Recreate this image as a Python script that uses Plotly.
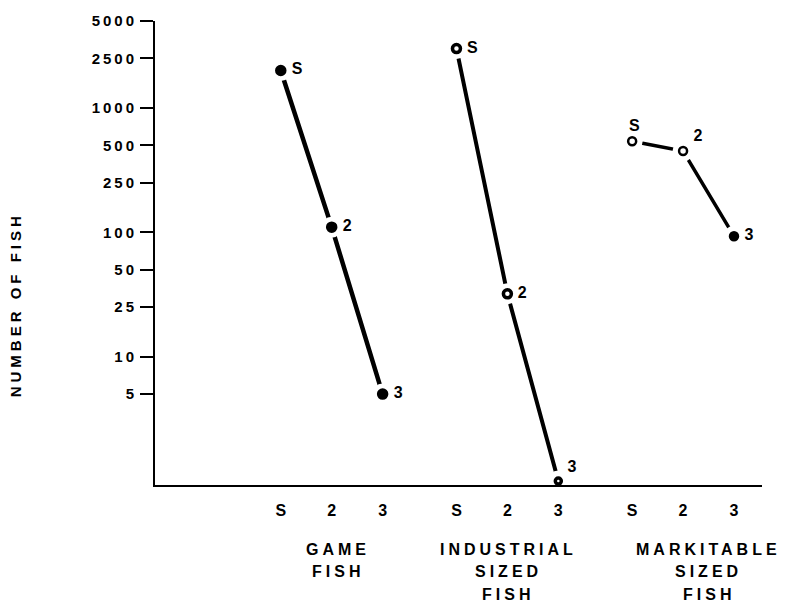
import plotly.graph_objects as go

# ---------------- data ----------------
size_classes = ["S", "2", "3"]
group_label_lines = [["GAME", "FISH"],
                     ["INDUSTRIAL", "SIZED", "FISH"],
                     ["MARKITABLE", "SIZED", "FISH"]]
game_fish = [2000, 110, 5]
industrial_sized_fish = [3000, 32, 1]
marketable_sized_fish = [540, 450, 93]
y_tick_values = [5, 10, 25, 50, 100, 250, 500, 1000, 2500, 5000]
y_tick_labels = ["5", "10", "25", "50", "100", "250", "500", "1000", "2500", "5000"]
y_title = "NUMBER OF FISH"

# ---------------- layout constants ----------------
GROUP_STEP = 3.45
FONT = "Liberation Sans, Arial, sans-serif"
W, H = 785, 609
ML, MR, MT, MB = 155, 23, 15, 124
PLOT_H = H - MT - MB


def paper_y(pix):
    return (H - MB - pix) / PLOT_H


def paper_x(pix):
    return (pix - ML) / (W - ML - MR)


series = [game_fish, industrial_sized_fish, marketable_sized_fish]
marker_symbols = [["circle", "circle", "circle"],
                  ["circle-open", "circle-open", "circle-open"],
                  ["circle-open", "circle-open", "circle"]]
marker_sizes = [[9, 9, 9], [8, 8, 6], [8, 8, 8]]
marker_line_widths = [2.5, 3.5, 2.5]
line_widths = [4.5, 4, 3.5]
text_positions = [["middle right", "middle right", "middle right"],
                  ["middle right", "middle right", "top right"],
                  ["top center", "top right", "middle right"]]

fig = go.Figure()
all_x, all_txt = [], []
for g, vals in enumerate(series):
    xs = [g * GROUP_STEP + i for i in range(len(size_classes))]
    all_x += xs
    all_txt += size_classes
    # connecting line
    fig.add_trace(go.Scatter(x=xs, y=vals, mode="lines",
                             line=dict(color="black", width=line_widths[g]),
                             hoverinfo="skip", cliponaxis=False))
    # white halo to create the gap around each point
    fig.add_trace(go.Scatter(x=xs, y=vals, mode="markers",
                             marker=dict(color="white", size=21, line=dict(width=0)),
                             hoverinfo="skip", cliponaxis=False))
    # the points and their labels
    fig.add_trace(go.Scatter(x=xs, y=vals, mode="markers+text",
                             text=[" " + s for s in size_classes], textposition=text_positions[g],
                             textfont=dict(family=FONT, size=16, color="black", weight="bold"),
                             marker=dict(color="black", symbol=marker_symbols[g],
                                         size=marker_sizes[g], opacity=1,
                                         line=dict(color="black", width=marker_line_widths[g])),
                             cliponaxis=False))

annotations = [dict(text=y_title, textangle=-90, xref="paper", yref="paper",
                    x=paper_x(15), y=paper_y(303), showarrow=False,
                    xanchor="center", yanchor="middle",
                    font=dict(family=FONT, size=15, color="black", weight="bold"))]
group_label_x = [1.12, 4.47, 8.4]
line_pix = [550, 573, 596]
for g, lines in enumerate(group_label_lines):
    for k, txt in enumerate(lines):
        annotations.append(dict(text=txt, xref="x", yref="paper",
                                x=group_label_x[g], y=paper_y(line_pix[k]),
                                showarrow=False, xanchor="center", yanchor="middle",
                                font=dict(family=FONT, size=16, color="black", weight="bold")))

fig.update_layout(
    width=W, height=H,
    margin=dict(l=ML, r=MR, t=MT, b=MB, pad=0),
    paper_bgcolor="white", plot_bgcolor="white",
    showlegend=False,
    annotations=annotations,
    xaxis=dict(range=[-2.47, 9.45], showgrid=False, zeroline=False,
               showline=True, linecolor="black", linewidth=2,
               tickvals=all_x, ticktext=all_txt, ticks="",
               ticklabelstandoff=10,
               tickfont=dict(family=FONT, size=16, color="black", weight="bold")),
    yaxis=dict(type="log", range=[-0.032, 3.699], showgrid=False, zeroline=False,
               showline=True, linecolor="black", linewidth=2,
               tickvals=y_tick_values, ticktext=y_tick_labels,
               ticks="outside", ticklen=13, tickwidth=1.5, tickcolor="black",
               tickfont=dict(family=FONT, size=15, color="black", weight="bold")),
)

post = """
document.body.style.margin='0';
document.body.style.padding='0';
document.querySelectorAll('.ytick text').forEach(function(t){t.style.letterSpacing='3px';});
document.querySelectorAll('.annotation-text').forEach(function(t){t.style.letterSpacing='4px';});
"""
fig.write_html("out.html", post_script=post, config={"displayModeBar": False})
